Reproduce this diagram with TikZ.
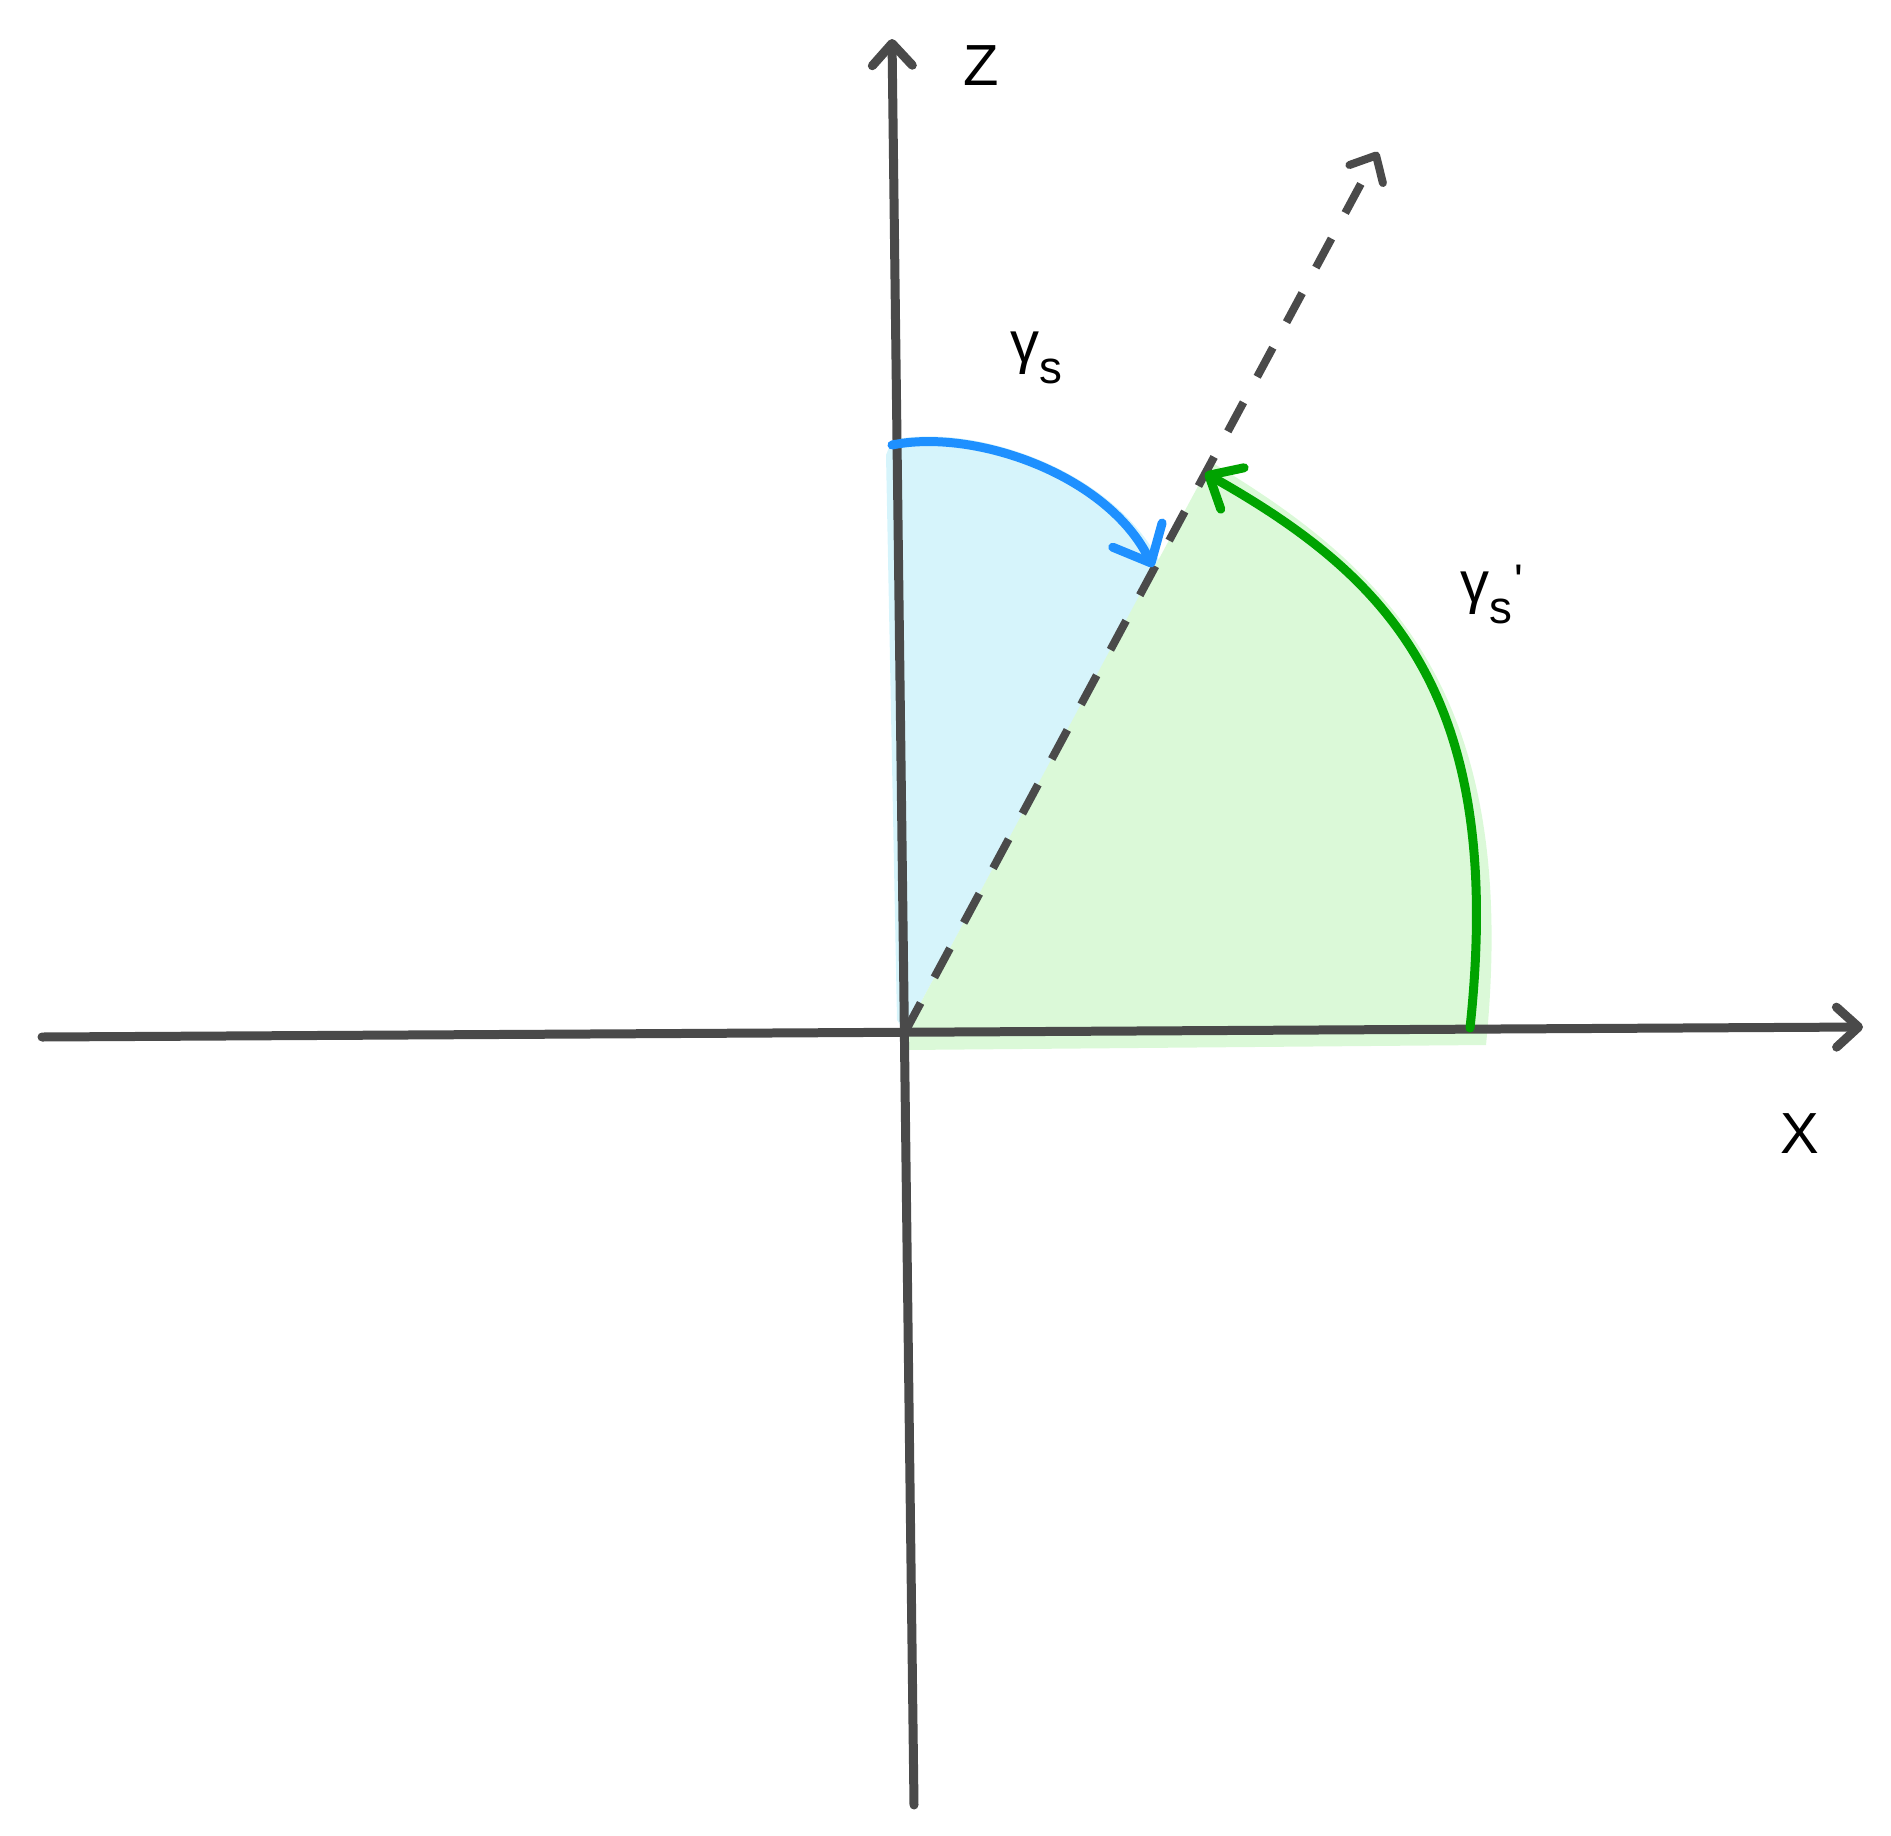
\documentclass[tikz,border=0pt]{standalone}
\usepackage{fontspec}
\setmainfont{Liberation Sans}
\usetikzlibrary{arrows.meta}
\definecolor{axisgray}{RGB}{74,74,74}
\definecolor{arcblue}{RGB}{30,144,255}
\definecolor{arcgreen}{RGB}{0,163,0}
\definecolor{fillblue}{RGB}{214,244,251}
\definecolor{fillgreen}{RGB}{219,249,216}
\newcommand\lowsub[1]{\raisebox{-12pt}{\fontsize{26}{30}\selectfont #1}}

\begin{document}
\begin{tikzpicture}[x=0.02cm, y=-0.02cm,
  axis/.style={draw=axisgray, line width=0.18cm, line cap=round, -{Straight Barb[length=0.44cm, width=0.8cm, round]}},
  ray/.style={draw=axisgray, line width=0.16cm, dash pattern=on 0.66cm off 0.58cm, -{Straight Barb[length=0.42cm, width=0.76cm, round]}},
  bluearc/.style={draw=arcblue, line width=0.18cm, line cap=round, -{Straight Barb[length=0.62cm, width=1.1cm, round]}},
  greenarc/.style={draw=arcgreen, line width=0.18cm, line cap=round, -{Straight Barb[length=0.54cm, width=0.95cm, round]}},
  lbl/.style={inner sep=0pt, anchor=base west, font=\fontsize{33}{40}\selectfont}]
\useasboundingbox (0,0) rectangle (1891,1836);
% points
\coordinate (O) at (905,1032);
\coordinate (ztop) at (892,39);
\coordinate (zbot) at (914,1805);
\coordinate (xleft) at (42,1037);
\coordinate (xright) at (1863,1027);
\coordinate (dtip) at (1378,152);
\coordinate (bstart) at (892,445);
\coordinate (bend) at (1153,567);
\coordinate (gstart) at (1470,1028);
\coordinate (gend) at (1205,473);
% shaded sectors
\fill[fillblue] (O) -- (897,1020) -- (886,455) -- (892,440) .. controls (970,423) and (1108,466) .. (1159,560) -- cycle;
\fill[fillgreen] (O) -- (905,1050) -- (1486,1045) .. controls (1520,700) and (1395,572) .. (1211,462) -- cycle;
% axes and ray
\draw[axis] (xleft) -- (xright);
\draw[axis] (zbot) -- (ztop);
\draw[ray] (O) -- (dtip);
% angle arcs
\draw[bluearc] (bstart) .. controls (975,428) and (1108,475) .. (bend);
\draw[greenarc] (gstart) .. controls (1505,700) and (1395,580) .. (gend);
% labels
\node[lbl] (zlbl) at (963,85) {Z};
\node[lbl] (xlbl) at (1780,1153) {X};
\node[lbl] (gamlbl) at (1010,362) {γ\lowsub{s}};
\node[lbl] (gamplbl) at (1460,602) {γ\lowsub{s}\kern1.5pt\raisebox{3pt}{\fontsize{26}{30}\selectfont\textquotesingle}};
\end{tikzpicture}
\end{document}
